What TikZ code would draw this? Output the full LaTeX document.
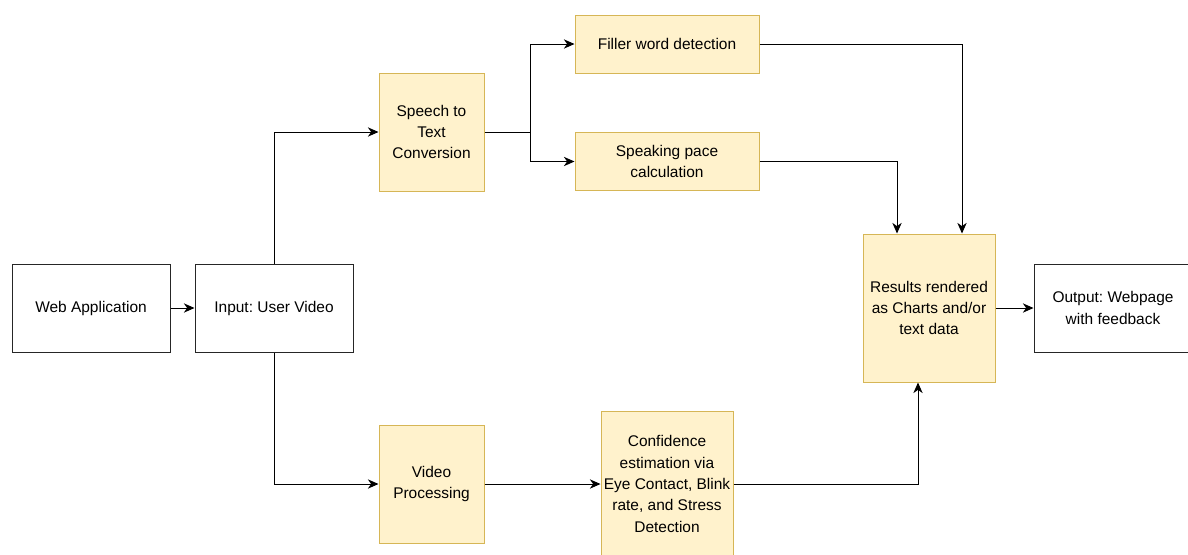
\documentclass[tikz,border=0pt]{standalone}
\usepackage{fontspec}
\setmainfont{Liberation Sans}
\usepackage{tikz}
\usetikzlibrary{arrows.meta}
\usepackage{xcolor}
\definecolor{boxfill}{HTML}{FFF2CC}
\definecolor{boxline}{HTML}{D6B656}
\frenchspacing

\begin{document}
\begin{tikzpicture}[x=0.75pt,y=-0.75pt,
	box/.style={draw=black!85,fill=white,line width=0.75pt,align=center,inner sep=0pt,
		font=\fontsize{11.6}{16}\selectfont},
	stagebox/.style={box,draw=boxline,fill=boxfill},
	arr/.style={line width=0.75pt,-{Stealth[length=8pt,width=7pt,inset=2.5pt]}}]
	\clip (0,0) rectangle (1188,554);
	
	\node[box,minimum width=118.5pt,minimum height=66pt] (web) at (91,308) {Web Application};
	\node[box,minimum width=118.5pt,minimum height=66pt] (input) at (274,308) {Input: User Video};
	
	\node[stagebox,minimum width=78.75pt,minimum height=88.5pt] (speech) at (431.5,132) {Speech to\\Text\\Conversion};
	\node[stagebox,minimum width=138pt,minimum height=43.5pt] (filler) at (667,44) {Filler word detection};
	\node[stagebox,minimum width=138pt,minimum height=43.5pt] (pace) at (667,161.5) {Speaking pace\\calculation};
	
	\node[stagebox,minimum width=78.75pt,minimum height=88.5pt] (video) at (431.5,484) {Video\\Processing};
	\node[stagebox,minimum width=99pt,minimum height=109.5pt] (conf) at (667,484) {Confidence\\estimation via\\Eye Contact, Blink\\rate, and Stress\\Detection};
	
	\node[stagebox,minimum width=99pt,minimum height=111pt] (results) at (929,308) {Results rendered\\as Charts and/or\\text data};
	\node[box,minimum width=118.5pt,minimum height=66pt] (output) at (1113,308) {Output: Webpage\\with feedback};
	
	\coordinate (split) at (530,132);
	
	\draw[arr] (web) -- (input);
	\draw[arr] (input.north) |- (speech.west);
	\draw[arr] (input.south) |- (video.west);
	
	\draw[line width=0.75pt] (speech.east) -- (split);
	\draw[arr] (split) |- (filler.west);
	\draw[arr] (split) |- (pace.west);
	
	\draw[arr] (filler.east) -| ([xshift=24.75pt]results.north);
	\draw[arr] (pace.east) -| ([xshift=-24pt]results.north);
	
	\draw[arr] (video) -- (conf);
	\draw[arr] (conf.east) -| ([xshift=-8.25pt]results.south);
	
	\draw[arr] (results) -- (output);
\end{tikzpicture}
\end{document}
